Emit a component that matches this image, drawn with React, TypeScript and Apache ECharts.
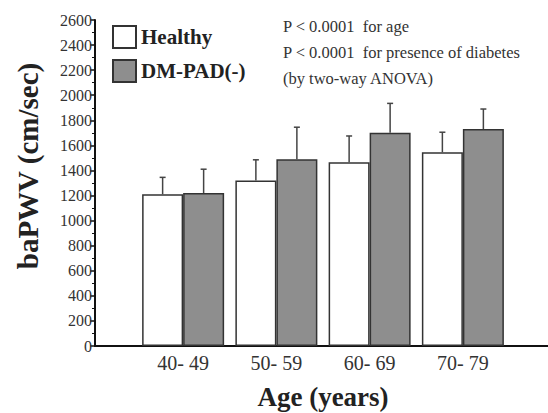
import React, { useEffect, useRef } from "react";
import * as echarts from "echarts";

const categories = ["40- 49", "50- 59", "60- 69", "70- 79"];
const healthyMean = [1210, 1320, 1465, 1545];
const healthySD = [135, 165, 210, 160];
const dmMean = [1220, 1490, 1700, 1730];
const dmSD = [190, 255, 235, 160];
const yTicks = { min: 0, max: 2600, interval: 200 };
const notes = [
  "P < 0.0001  for age",
  "P < 0.0001  for presence of diabetes",
  "(by two-way ANOVA)",
];
const yTitle = "baPWV (cm/sec)";
const xTitle = "Age (years)";

const FONT = "'Liberation Serif', 'Times New Roman', serif";
const BAR_W = 41;

export default function App() {
  const ref = useRef<HTMLDivElement>(null);
  useEffect(() => {
    const chart = echarts.init(ref.current!, undefined, { renderer: "svg" });
    const errData = (means: number[], sds: number[]) =>
      means.map((m, i) => [i, m, m + sds[i]]);
    const makeErr = (offset: number) => (params: any, api: any) => {
      const idx = api.value(0);
      const base = api.coord([idx, api.value(1)]);
      const top = api.coord([idx, api.value(2)]);
      const x = base[0] + offset;
      const style = { stroke: "#444", lineWidth: 1.5 };
      return {
        type: "group",
        children: [
          { type: "line", shape: { x1: x, y1: base[1], x2: x, y2: top[1] }, style },
          { type: "line", shape: { x1: x - 3, y1: top[1], x2: x + 3, y2: top[1] }, style },
        ],
      };
    };
    chart.setOption({
      animation: false,
      textStyle: { fontFamily: FONT },
      legend: {
        orient: "vertical",
        left: 107,
        top: 20,
        itemWidth: 23,
        itemHeight: 22,
        itemGap: 10,
        icon: "rect",
        textStyle: { fontFamily: FONT, fontWeight: "bold", fontSize: 21, color: "#222" },
        data: ["Healthy", "DM-PAD(-)"],
      },
      grid: [
        { left: 95, right: -12, top: 20, bottom: 67, outerBoundsMode: "none", containLabel: false },
        { left: 136.5, right: 38.5, top: 20, bottom: 67, outerBoundsMode: "none", containLabel: false },
      ],
      xAxis: [
        {
          gridIndex: 0,
          type: "category",
          data: [""],
          axisLine: { show: true, onZero: false, lineStyle: { color: "#111", width: 2 } },
          axisTick: { show: false },
          axisLabel: { show: false },
          splitLine: { show: false },
        },
        {
          gridIndex: 1,
          type: "category",
          data: categories,
          axisLine: { show: false },
          axisTick: { show: false },
          axisLabel: { fontFamily: FONT, fontSize: 20, color: "#333", margin: 7 },
          splitLine: { show: false },
          name: xTitle,
          nameLocation: "middle",
          nameGap: 37,
          nameTextStyle: { fontFamily: FONT, fontWeight: "bold", fontSize: 27, color: "#222" },
        },
      ],
      yAxis: [
        {
          gridIndex: 0,
          type: "value",
          position: "left",
          min: yTicks.min,
          max: yTicks.max,
          interval: yTicks.interval,
          axisLine: { show: true, onZero: false, lineStyle: { color: "#111", width: 2 } },
          axisTick: { show: true, length: 5, lineStyle: { color: "#111", width: 1.5 } },
          minorTick: { show: true, splitNumber: 2, length: 3, lineStyle: { color: "#111" } },
          axisLabel: {
            fontFamily: FONT,
            fontSize: 16,
            color: "#333",
            margin: 3,
            formatter: (v: number) => String(v),
          },
          splitLine: { show: false },
        },
        {
          gridIndex: 1,
          type: "value",
          min: yTicks.min,
          max: yTicks.max,
          interval: yTicks.interval,
          show: false,
          axisLine: { show: false },
          splitLine: { show: false },
        },
      ],
      series: [
        {
          name: "Healthy",
          type: "bar",
          xAxisIndex: 1,
          yAxisIndex: 1,
          data: healthyMean,
          barWidth: BAR_W,
          barGap: "0%",
          itemStyle: { color: "#ffffff", borderColor: "#333", borderWidth: 1.5 },
        },
        {
          name: "DM-PAD(-)",
          type: "bar",
          xAxisIndex: 1,
          yAxisIndex: 1,
          data: dmMean,
          barWidth: BAR_W,
          barGap: "0%",
          itemStyle: { color: "#8e8e8e", borderColor: "#333", borderWidth: 1.5 },
        },
        {
          type: "custom",
          xAxisIndex: 1,
          yAxisIndex: 1,
          data: errData(healthyMean, healthySD),
          renderItem: makeErr(-BAR_W / 2),
          z: 3,
        },
        {
          type: "custom",
          xAxisIndex: 1,
          yAxisIndex: 1,
          data: errData(dmMean, dmSD),
          renderItem: makeErr(BAR_W / 2),
          z: 3,
        },
      ],
      graphic: [
        ...notes.map((t, i) => ({
          type: "text",
          left: 283,
          top: 18 + i * 26,
          style: { text: t, font: `16.5px ${FONT}`, fill: "#333" },
        })),
        {
          type: "text",
          x: 28,
          y: 166,
          rotation: Math.PI / 2,
          style: {
            text: yTitle,
            font: `bold 29px ${FONT}`,
            fill: "#222",
            align: "center",
            verticalAlign: "middle",
          },
        },
      ],
    });
    return () => chart.dispose();
  }, []);
  return <div ref={ref} style={{ width: 548, height: 413, position: "absolute", left: 0, top: 0 }} />;
}
